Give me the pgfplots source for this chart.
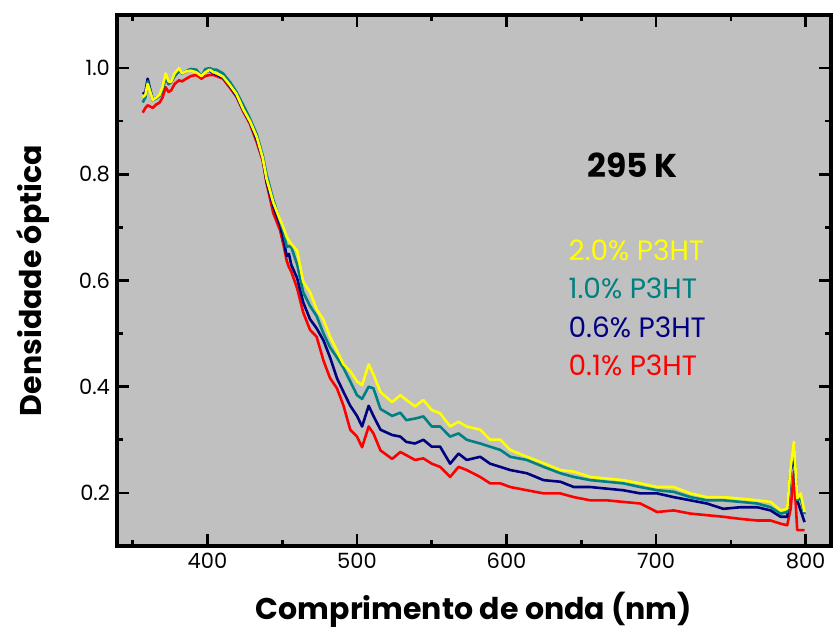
\documentclass[border=0pt]{standalone}
\usepackage{fontspec}
\setmainfont{Poppins}
\usepackage{pgfplots}
\pgfplotsset{compat=1.18}
\usepackage{pgfplotstable}
\definecolor{bg}{RGB}{192,192,192}
\definecolor{tealc}{RGB}{0,128,128}
\definecolor{navyc}{RGB}{0,0,128}
\definecolor{yellowc}{RGB}{255,255,0}
\definecolor{redc}{RGB}{255,0,0}
\pgfplotstableread{
nm red navy teal yellow
356.7 0.916 0.951 0.935 0.945
358.5 0.925 0.955 0.945 0.950
360.0 0.930 0.980 0.975 0.970
363.4 0.925 0.940 0.940 0.940
366.0 0.932 0.945 0.943 0.945
368.0 0.935 0.948 0.948 0.950
370.0 0.945 0.960 0.960 0.965
372.0 0.964 0.985 0.985 0.990
374.0 0.955 0.970 0.970 0.975
375.7 0.958 0.974 0.974 0.974
378.0 0.970 0.985 0.985 0.990
381.0 0.977 0.995 0.995 1.000
383.0 0.975 0.990 0.990 0.990
385.8 0.980 0.994 0.994 0.994
389.0 0.985 0.998 0.998 0.995
392.5 0.987 0.995 0.997 0.992
396.0 0.980 0.985 0.985 0.985
398.5 0.985 0.993 0.998 0.992
401.5 0.987 0.995 1.000 0.997
404.0 0.987 0.990 0.997 0.992
406.0 0.985 0.988 0.997 0.990
410.4 0.980 0.982 0.990 0.984
415.0 0.963 0.966 0.974 0.968
419.4 0.946 0.948 0.955 0.951
424.0 0.918 0.920 0.930 0.922
428.4 0.895 0.898 0.905 0.900
433.0 0.860 0.865 0.875 0.870
437.0 0.825 0.828 0.835 0.830
439.5 0.784 0.786 0.800 0.792
444.0 0.727 0.740 0.752 0.747
448.5 0.695 0.705 0.712 0.715
451.0 0.665 0.675 0.690 0.698
453.0 0.637 0.646 0.663 0.682
454.5 0.625 0.650 0.665 0.675
456.0 0.617 0.630 0.663 0.669
460.0 0.585 0.604 0.630 0.656
464.0 0.540 0.559 0.578 0.598
468.6 0.507 0.527 0.552 0.578
473.0 0.494 0.510 0.533 0.546
477.6 0.449 0.487 0.500 0.526
482.0 0.416 0.455 0.474 0.494
486.6 0.397 0.416 0.455 0.468
491.0 0.364 0.390 0.435 0.442
495.5 0.319 0.364 0.410 0.429
500.0 0.306 0.345 0.384 0.410
503.4 0.286 0.325 0.377 0.403
507.8 0.325 0.364 0.400 0.442
511.0 0.312 0.345 0.397 0.423
515.7 0.280 0.319 0.358 0.390
523.5 0.264 0.309 0.345 0.371
529.0 0.277 0.306 0.351 0.384
533.0 0.271 0.296 0.337 0.375
538.8 0.262 0.293 0.340 0.363
544.4 0.265 0.300 0.344 0.375
550.0 0.255 0.287 0.325 0.356
555.6 0.249 0.287 0.325 0.350
562.3 0.230 0.255 0.306 0.325
567.9 0.249 0.274 0.312 0.334
573.4 0.243 0.262 0.300 0.325
582.4 0.230 0.268 0.293 0.319
589.0 0.218 0.255 0.287 0.300
595.8 0.218 0.249 0.281 0.300
602.5 0.211 0.243 0.268 0.281
613.6 0.205 0.237 0.262 0.268
624.8 0.199 0.224 0.249 0.256
636.0 0.199 0.221 0.237 0.243
645.0 0.192 0.211 0.230 0.240
656.0 0.186 0.211 0.224 0.230
667.0 0.186 0.208 0.221 0.227
678.0 0.183 0.205 0.218 0.224
689.5 0.180 0.199 0.211 0.218
700.7 0.164 0.199 0.205 0.211
711.8 0.167 0.192 0.202 0.211
723.0 0.161 0.186 0.192 0.199
734.0 0.158 0.180 0.186 0.192
745.0 0.155 0.170 0.186 0.192
756.5 0.151 0.173 0.183 0.189
767.6 0.148 0.173 0.180 0.186
776.6 0.148 0.167 0.173 0.183
783.3 0.142 0.155 0.161 0.167
787.7 0.139 0.155 0.164 0.170
790.0 0.170 0.240 0.245 0.249
792.2 0.240 0.274 0.290 0.296
794.4 0.130 0.186 0.186 0.190
796.7 0.130 0.167 0.190 0.199
799.3 0.130 0.145 0.160 0.164
}\spectra
\begin{document}
\begin{tikzpicture}
\begin{axis}[
  scale only axis, width=357pt, height=265.5pt,
  xmin=339.5, xmax=817, ymin=0.1, ymax=1.1,
  axis background/.style={fill=bg},
  axis line style={line width=1.6pt},
  xtick={400,500,...,800}, minor xtick={350,450,...,750},
  ytick={0.2,0.4,0.6,0.8,1.0}, minor ytick={0.3,0.5,0.7,0.9},
  tick align=inside, major tick length=6pt, minor tick length=3pt,
  every tick/.style={black, line width=1.3pt},
  ticklabel style={font=\fontsize{10.5}{12}\selectfont},
  /pgf/number format/assume math mode=true,
  yticklabel style={/pgf/number format/.cd, fixed, fixed zerofill, precision=1},
  xticklabel style={/pgf/number format/.cd, set thousands separator={}},
  xlabel={Comprimento de onda (nm)},
  ylabel={Densidade óptica},
  label style={font=\bfseries\fontsize{15}{18}\selectfont},
  xlabel style={at={(axis description cs:0.5,-0.1205)}, anchor=center},
  ylabel style={at={(axis description cs:-0.118,0.5)}, anchor=center},
  every axis plot/.append style={line width=1.3pt, line join=round, mark=none},
  clip=true,
]
\addplot[redc] table[x=nm, y=red] {\spectra};
\addplot[navyc] table[x=nm, y=navy] {\spectra};
\addplot[tealc] table[x=nm, y=teal] {\spectra};
\addplot[yellowc] table[x=nm, y=yellow] {\spectra};
\node[font=\bfseries\fontsize{16.5}{18}\selectfont, anchor=center] at (axis description cs:0.722,0.718) {295 K};
\node[font=\fontsize{14}{16}\selectfont, text=yellowc, anchor=west, inner sep=0pt] at (axis description cs:0.632,0.557) {2.0\% P3HT};
\node[font=\fontsize{14}{16}\selectfont, text=tealc, anchor=west, inner sep=0pt] at (axis description cs:0.632,0.486) {1.0\% P3HT};
\node[font=\fontsize{14}{16}\selectfont, text=navyc, anchor=west, inner sep=0pt] at (axis description cs:0.632,0.412) {0.6\% P3HT};
\node[font=\fontsize{14}{16}\selectfont, text=redc, anchor=west, inner sep=0pt] at (axis description cs:0.632,0.341) {0.1\% P3HT};
\end{axis}
\pgfresetboundingbox
\path ([shift={(-58.5pt,-44.5pt)}]current axis.south west) rectangle ([shift={(2.5pt,7.5pt)}]current axis.north east);
\end{tikzpicture}
\end{document}
